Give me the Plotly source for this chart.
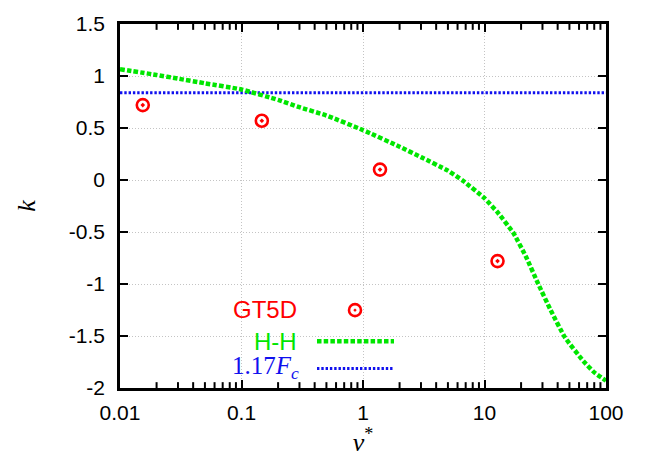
import plotly.graph_objects as go

# ---- data ----
gt5d_nu = [0.0154, 0.147, 1.38, 12.8]
gt5d_k = [0.72, 0.57, 0.10, -0.78]

hh_nu = [0.01, 0.02, 0.03, 0.05, 0.1, 0.2, 0.3, 0.5, 1, 2, 3, 5, 6.7, 10, 13, 17.3, 22, 27.7, 35, 46, 65, 80, 100]
hh_k = [1.065, 1.01, 0.975, 0.93, 0.87, 0.77, 0.70, 0.62, 0.48, 0.32, 0.22, 0.09, -0.01, -0.175, -0.32,
        -0.51, -0.74, -1.00, -1.25, -1.515, -1.74, -1.85, -1.93]

fc_nu = [0.01, 100]
fc_k = [0.84, 0.84]

x_ticks = [0.01, 0.1, 1, 10, 100]
x_ticktext = ["0.01", "0.1", "1", "10", "100"]
x_minor = [m * d for d in [0.01, 0.1, 1, 10] for m in range(2, 10)]
y_ticks = [1.5, 1, 0.5, 0, -0.5, -1, -1.5, -2]
y_ticktext = ["1.5", "1", "0.5", "0", "-0.5", "-1", "-1.5", "-2"]

RED = "#ff0000"
GREEN = "#00e600"
BLUE = "#1010ee"

fig = go.Figure()
fig.add_trace(go.Scatter(x=fc_nu, y=fc_k, mode="lines",
                         line=dict(color=BLUE, width=3, dash="2.4px,1.9px"), showlegend=False))
fig.add_trace(go.Scatter(x=hh_nu, y=hh_k, mode="lines",
                         line=dict(color=GREEN, width=4.5, dash="4.5px,2.2px", shape="spline", smoothing=0.4),
                         showlegend=False))
fig.add_trace(go.Scatter(x=gt5d_nu, y=gt5d_k, mode="markers",
                         marker=dict(symbol="circle-open-dot", size=12, color=RED, line=dict(width=2.6, color=RED)),
                         showlegend=False))

# legend (gnuplot style: text left of sample)
L, R, T, B = 120, 52, 14, 70
W, H = 658 - L - R, 458 - T - B
def px(x):
    return (x - L) / W
def py(y):
    return (458 - B - y) / H

anns = [
    dict(text="GT5D", x=px(299), y=py(307), font=dict(family="Liberation Sans", size=24, color=RED)),
    dict(text="H-H", x=px(299), y=py(340), font=dict(family="Liberation Sans", size=24, color=GREEN)),
    dict(text="1.17<i>F<sub>c</sub></i>", x=px(301), y=py(367),
         font=dict(family="Liberation Serif", size=25, color=BLUE)),
]
for a in anns:
    a.update(xref="paper", yref="paper", xanchor="right", yanchor="middle", showarrow=False)

shapes = [
    dict(type="line", xref="paper", yref="paper", x0=px(317), x1=px(394), y0=py(340), y1=py(340),
         line=dict(color=GREEN, width=4.5, dash="4.5px,2.2px")),
    dict(type="line", xref="paper", yref="paper", x0=px(317), x1=px(394), y0=py(368), y1=py(368),
         line=dict(color=BLUE, width=3, dash="2.4px,1.9px")),
    dict(type="circle", xref="paper", yref="paper", xsizemode="pixel", ysizemode="pixel",
         xanchor=px(355), yanchor=py(308), x0=-6, x1=6, y0=-6, y1=6,
         line=dict(color=RED, width=2.6)),
    dict(type="circle", xref="paper", yref="paper", xsizemode="pixel", ysizemode="pixel",
         xanchor=px(355), yanchor=py(308), x0=-1, x1=1, y0=-1, y1=1,
         line=dict(color=RED, width=1), fillcolor=RED),
]
# minor log ticks (inside, bottom and top) placed via the x axis scale
tk = 6.0 / H
for v in x_minor:
    for y0, y1 in [(0, tk), (1, 1 - tk)]:
        shapes.append(dict(type="line", xref="x", yref="paper", x0=v, x1=v, y0=y0, y1=y1,
                           line=dict(color="black", width=2), layer="above"))

axis_common = dict(
    showline=True, linecolor="black", linewidth=2.5, mirror="allticks",
    ticks="inside", ticklen=8, tickwidth=2, tickcolor="black",
    showgrid=True, gridcolor="#c4c4c4", gridwidth=1, griddash="1px,2px",
    zeroline=False,
    tickfont=dict(family="Liberation Sans", size=21, color="black"),
)

fig.update_layout(
    width=658, height=458,
    margin=dict(l=L, r=R, t=T, b=B),
    paper_bgcolor="white", plot_bgcolor="white",
    annotations=anns, shapes=shapes,
    xaxis=dict(type="log", range=[-2, 2], tickmode="array", tickvals=x_ticks, ticktext=x_ticktext,
               ticklabelstandoff=4,
               title=dict(text="<i>ν</i><sup>*</sup>", font=dict(family="Liberation Serif", size=26, color="black"),
                          standoff=2),
               **axis_common),
    yaxis=dict(range=[-2, 1.5], tickmode="array", tickvals=y_ticks, ticktext=y_ticktext,
               ticklabelstandoff=8,
               title=dict(text="<i>k</i>", font=dict(family="Liberation Serif", size=26, color="black"),
                          standoff=26),
               **axis_common),
)

fig.write_html("out.html")
